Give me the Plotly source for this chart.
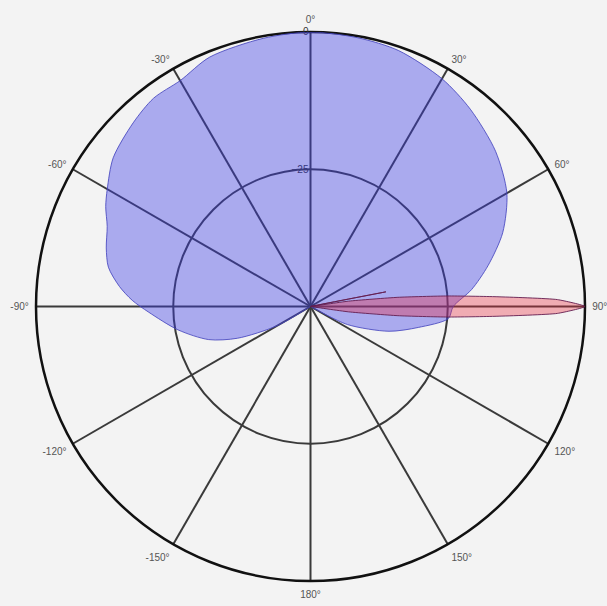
import plotly.graph_objects as go

# Radiation patterns in dB (radial axis runs from -50 dB at the centre to 0 dB at the rim)
blue_theta = [-180, -130, -120, -113.5, -108, -100, -92, -88, -84, -79, -74, -68.5, -64, -60,
              -53, -44, -37, -30, -22, -10, 0, 10, 19, 30, 39, 50, 60, 69, 77, 84, 90, 95,
              101, 107.5, 116, 125, 180]
blue_db = [-50, -50, -43, -35.5, -30.5, -25.5, -20.5, -17.5, -15, -12.5, -11.3, -10.2, -8.5,
           -7.25, -5, -3.5, -2.5, -2.5, -1, -0.4, 0, -0.3, -0.7, -2.1, -3.75, -6, -8.7, -12.5,
           -16.8, -20.5, -24, -24.8, -30, -35, -42.5, -50, -50]

red_theta = [0, 75, 77, 79, 80.5, 82, 84, 85.6, 87, 88.4, 90, 91.6, 93, 94.4, 96, 98, 100, 360]
red_db = [-50, -50, -50, -36, -50, -43, -34, -25, -16, -5, 0, -5, -16, -25, -34, -43, -50, -50]

tick_deg = [0, 30, 60, 90, 120, 150, 180, 210, 240, 270, 300, 330]
tick_text = ["0°", "30°", "60°", "90°", "120°", "150°", "180°",
             "-150°", "-120°", "-90°", "-60°", "-30°"]
radial_ticks = [-25, 0]

bg = "#f3f3f3"

fig = go.Figure()
fig.add_trace(go.Scatterpolar(
    r=blue_db, theta=blue_theta, mode="lines", fill="toself",
    fillcolor="rgba(60,60,230,0.40)",
    line=dict(color="rgba(70,70,190,0.85)", width=1, shape="spline", smoothing=0.8),
    showlegend=False,
))
fig.add_trace(go.Scatterpolar(
    r=red_db, theta=red_theta, mode="lines", fill="toself",
    fillcolor="rgba(235,40,60,0.35)",
    line=dict(color="rgba(100,30,80,0.9)", width=1, shape="spline", smoothing=0.5),
    showlegend=False,
))

fig.update_layout(
    template="none",
    width=607, height=606,
    margin=dict(l=36, r=22, t=32, b=25),
    paper_bgcolor=bg,
    font=dict(family="Liberation Sans, Arial, sans-serif", size=10, color="#555"),
    polar=dict(
        bgcolor=bg,
        domain=dict(x=[0, 1], y=[0, 1]),
        angularaxis=dict(
            rotation=90, direction="clockwise",
            tickmode="array", tickvals=tick_deg, ticktext=tick_text,
            showgrid=True, gridcolor="#3a3a3a", gridwidth=1.5,
            showline=True, linecolor="#111", linewidth=2.5,
            ticks="outside", ticklen=4, tickcolor="rgba(0,0,0,0)",
            layer="below traces",
            tickfont=dict(size=10, color="#555"),
        ),
        radialaxis=dict(
            range=[-50, 0], tickmode="array", tickvals=radial_ticks,
            showgrid=True, gridcolor="#3a3a3a", gridwidth=1.5,
            showline=False, ticks="", angle=90, tickangle=90,
            side="counterclockwise",
            layer="below traces",
            tickfont=dict(size=10, color="#333"),
        ),
    ),
)

fig.write_html("out.html")
